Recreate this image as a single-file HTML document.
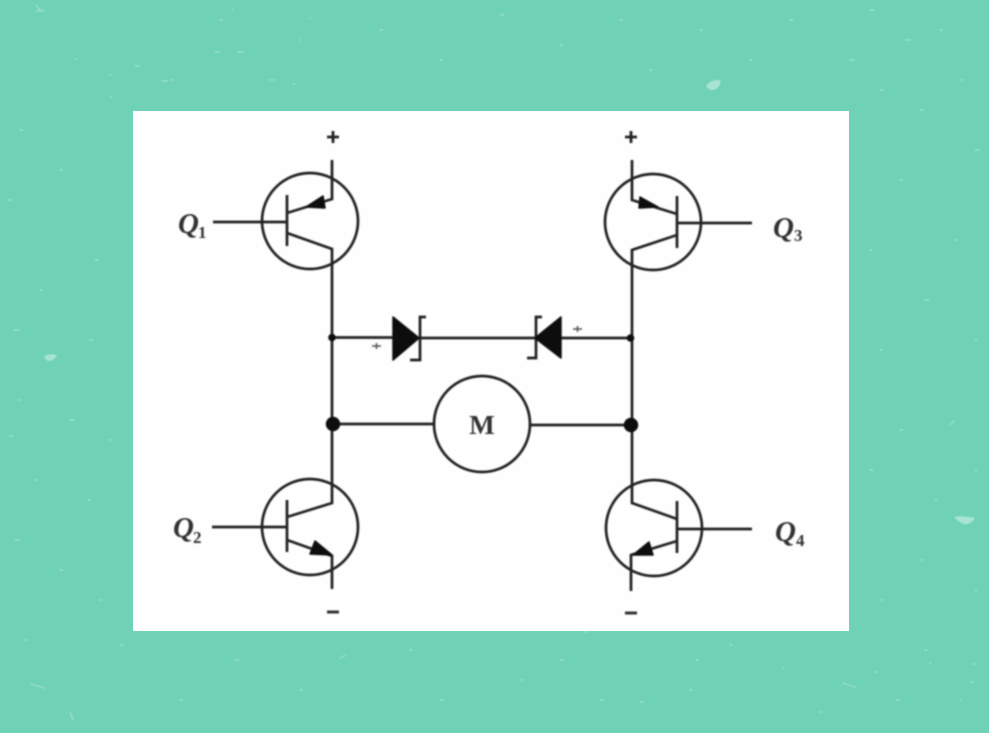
<!DOCTYPE html>
<html><head><meta charset="utf-8">
<style>
html,body{margin:0;padding:0;width:989px;height:733px;overflow:hidden;background:#6fd1b5}
svg{display:block}
text{font-family:"Liberation Serif",serif;fill:#333}
</style></head><body>
<svg width="989" height="733" viewBox="0 0 989 733" xmlns="http://www.w3.org/2000/svg">
<defs>
<filter id="b" x="-5%" y="-5%" width="110%" height="110%"><feGaussianBlur stdDeviation="0.75"/></filter>
<filter id="s" x="-5%" y="-5%" width="110%" height="110%"><feGaussianBlur stdDeviation="0.6"/></filter>
</defs>
<rect width="989" height="733" fill="#6fd1b5"/>
<g filter="url(#s)">
<path fill="none" stroke="#98dfca" stroke-width="1.400" stroke-linecap="round" d="M36 5l5 6M36 11h8M162 81h6M215 52h5M76 59h1M110 75h1M163 81h1M171 80h2M238 52h5M270 80h4M293 84h2M110 97h2M135 66h4M232 10h1M310 18h1M220 20h3M300 40h1M20 130h3M8 200h4M60 170h2M95 260h3M40 290h2M14 330h5M90 340h3M18 400h2M70 420h4M10 436h3M110 440h2M35 480h3M88 500h2M15 540h4M60 570h3M100 600h2M25 640h2M30 684l15 4M120 645h3M70 712l3 8M180 700h3M235 660h4M340 658l6-3M300 690h2M410 650h2M440 700h4M520 680h2M560 660h3M585 632h3M600 700h3M640 702h4M690 690h2M696 660h2M730 645h2M783 668h1M820 712h2M843 683l12 4M875 672h2M896 700h3M925 650h2M930 663h1M972 664h3M971 682h2M960 700h1M905 40h5M850 60h4M790 20h3M700 30h2M620 20h3M560 45h2M500 15h4M440 60h2M380 30h3M650 70h2M750 60h2M880 90h3M920 110h3M960 80h2M870 10h4M940 30h2M975 150h4M900 180h2M955 240h3M870 250h2M925 300h4M975 340h2M880 350h2M950 425l4-4M900 430h3M975 470h2M870 470h3M920 560h2M975 590h2M880 600h2M935 500h2"/>
<path fill="#a8e4d2" d="M706 86q5-7 14-6 2 5-4 9-6 3-10-3zM954 517q8-2 21 1-4 7-11 6-6-2-10-7zM44 356q6-3 13-1-3 6-8 6-3 0-5-5z"/>
</g>
<rect x="133" y="111" width="716" height="520" fill="#fefefe"/>
<g filter="url(#b)">
<g fill="none" stroke="#222" stroke-width="2.700">
<circle cx="310" cy="221" r="48"/>
<circle cx="653" cy="222" r="48"/>
<circle cx="310" cy="527" r="48"/>
<circle cx="654" cy="528" r="48"/>
<circle cx="482" cy="424" r="48"/>
<path d="M332 160V199L287 213M287 195V246M213 222H287M287 233L332 249V503L287 517"/>
<path d="M287 500V552M212 527H287M287 540L332 556V589"/>
<path d="M632 160V200L677 214M677 196V248M677 223H752M677 235L632 250V503L677 519"/>
<path d="M677 501V553M677 529H752M677 541L631 555V591"/>
<path d="M332 337.500H393M420 338H536M561 338H631"/>
<path d="M426 317H420V360H410M542 317H536V358H527"/>
<path d="M333 424H434M530 425H631"/>
</g>
<g fill="#111" stroke="#111" stroke-width="1.500" stroke-linejoin="round">
<path d="M393 317L393 360L419 338Z"/>
<path d="M561 317L561 358L535 338Z"/>
<path d="M306 207L323 196L325 208Z"/>
<path d="M640 197L639 208L658 207Z"/>
<path d="M332 555L315 541L310 554Z"/>
<path d="M633 555L649 542L653 555Z"/>
</g>
<g fill="#111">
<circle cx="332" cy="337.500" r="3.800"/>
<circle cx="630.500" cy="338" r="3.800"/>
<circle cx="333" cy="424" r="7.200"/>
<circle cx="631" cy="425" r="7.200"/>
</g>
<path stroke="#222" stroke-width="2.800" fill="none" d="M333 131V143M327 137H339M631 131V143M625 137H637"/>
<path stroke="#333" stroke-width="3" fill="none" d="M327 612H339M625 613H637"/>
<path stroke="#555" stroke-width="1.500" fill="none" d="M372 346H381M376.500 343V349M573 329H582M577.500 326V332"/>
<g font-style="italic" font-weight="bold" font-size="29">
<text x="178" y="233">Q</text>
<text x="173" y="537">Q</text>
<text x="773" y="237">Q</text>
<text x="775" y="541">Q</text>
</g>
<g font-size="17" font-weight="bold">
<text x="198" y="238">1</text>
<text x="193" y="543">2</text>
<text x="794" y="241">3</text>
<text x="796" y="546">4</text>
</g>
<text x="482" y="434" font-size="27" font-weight="bold" text-anchor="middle">M</text>
</g>
</svg>
</body></html>
